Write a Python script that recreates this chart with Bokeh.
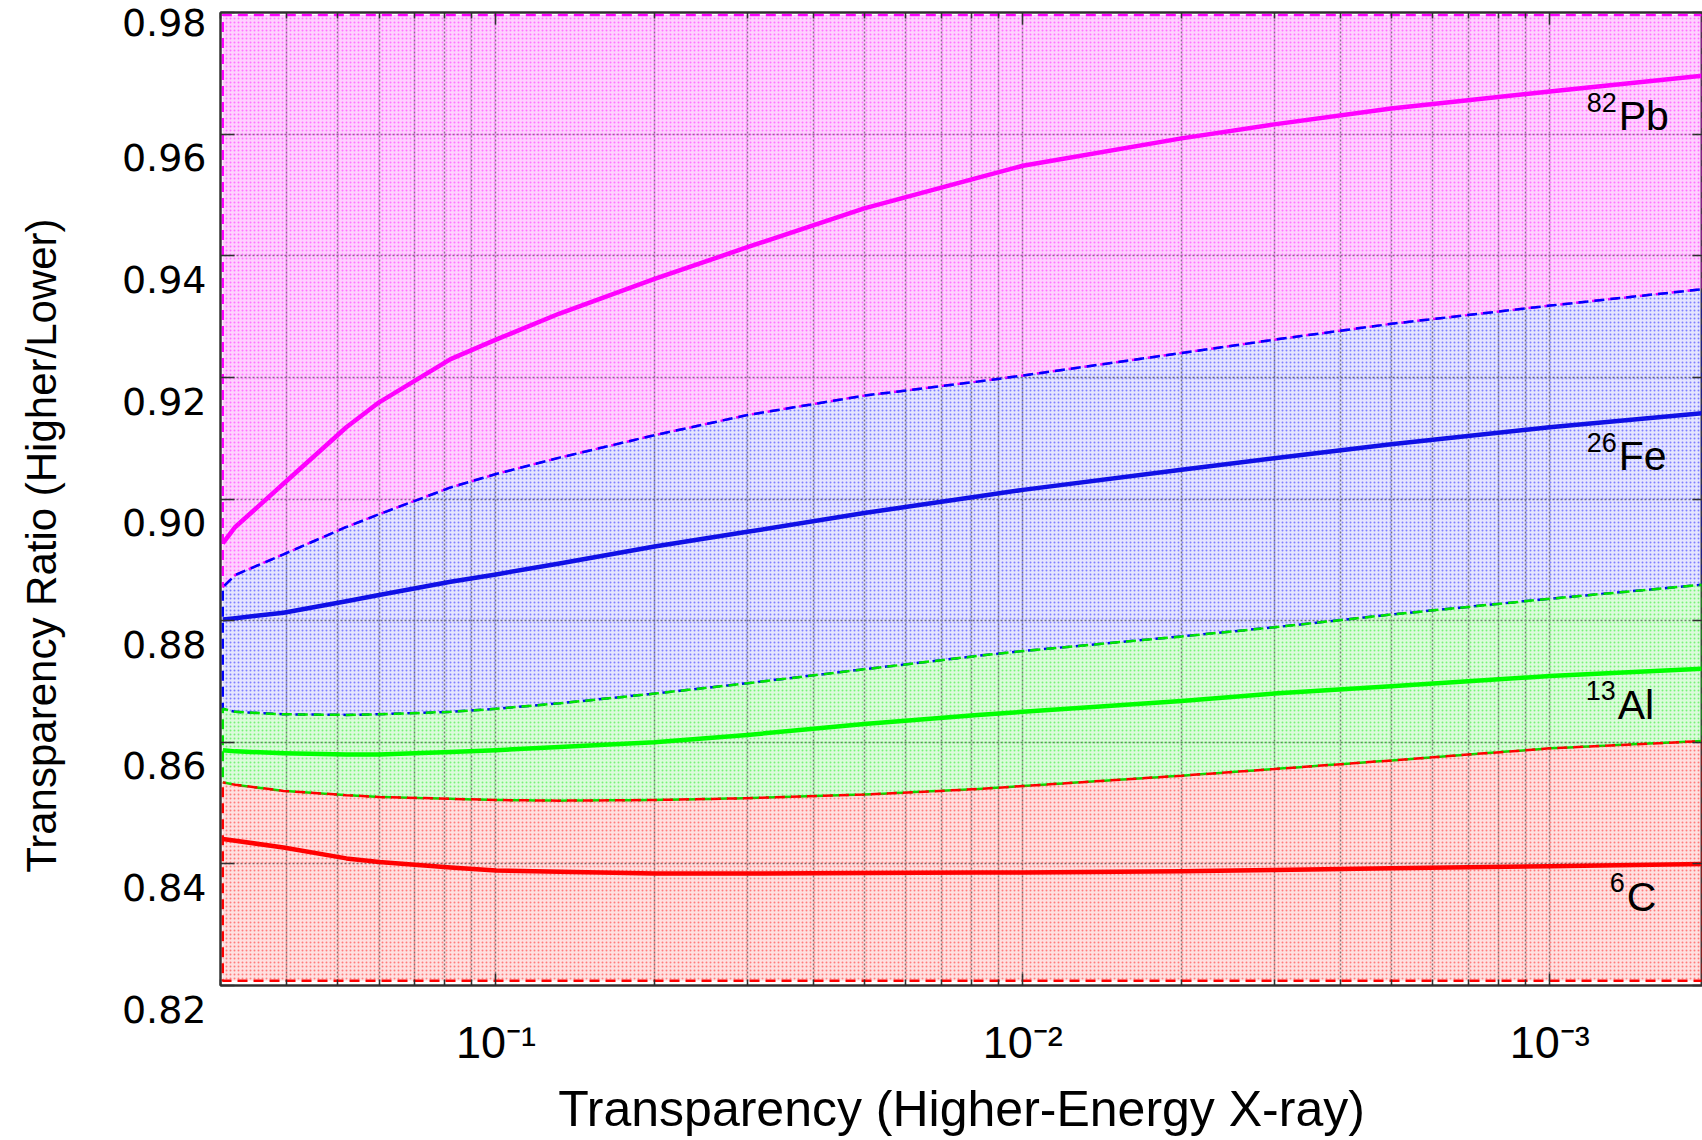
from bokeh.plotting import figure
from bokeh.models import (Range1d, FixedTicker, CustomJSTickFormatter, LogAxis, LinearAxis)
from bokeh.core.properties import value
from bokeh.embed import file_html
from bokeh.resources import INLINE

# ---------------- data ----------------
# x: inverse of transparency (axis labelled with transparency 10^-1 ... 10^-3)
attenuation = [3.03, 3.2, 3.95, 5.2, 6.0, 8.2, 10, 13.2, 20, 30, 50, 82, 100, 200, 300, 500, 1000, 1950]

pb_ratio = [0.8927, 0.8954, 0.9025, 0.9118, 0.9159, 0.9230, 0.9262, 0.9305, 0.9362, 0.9414,
            0.9478, 0.9528, 0.9548, 0.9593, 0.9616, 0.9642, 0.9670, 0.9696]
pb_fe_boundary = [0.8855, 0.8875, 0.8909, 0.8954, 0.8975, 0.9019, 0.9041, 0.9068, 0.9105, 0.9138,
                  0.9170, 0.9193, 0.9203, 0.9240, 0.9262, 0.9288, 0.9318, 0.9345]
fe_ratio = [0.8802, 0.8804, 0.8813, 0.8832, 0.8842, 0.8864, 0.8876, 0.8894, 0.8922, 0.8946,
            0.8977, 0.9004, 0.9015, 0.9048, 0.9067, 0.9090, 0.9118, 0.9141]
fe_al_boundary = [0.8655, 0.8650, 0.8646, 0.8645, 0.8646, 0.8650, 0.8655, 0.8664, 0.8680, 0.8697,
                  0.8720, 0.8742, 0.8750, 0.8774, 0.8789, 0.8810, 0.8836, 0.8859]
al_ratio = [0.8587, 0.8585, 0.8582, 0.8580, 0.8580, 0.8584, 0.8587, 0.8592, 0.8600, 0.8612,
            0.8630, 0.8645, 0.8650, 0.8668, 0.8680, 0.8692, 0.8709, 0.8721]
al_c_boundary = [0.8534, 0.8530, 0.8520, 0.8513, 0.8510, 0.8507, 0.8505, 0.8504, 0.8505, 0.8508,
                 0.8514, 0.8523, 0.8528, 0.8545, 0.8556, 0.8570, 0.8590, 0.8602]
c_ratio = [0.8441, 0.8438, 0.8427, 0.8409, 0.8403, 0.8394, 0.8389, 0.8387, 0.8384, 0.8384,
           0.8385, 0.8386, 0.8386, 0.8388, 0.8390, 0.8393, 0.8396, 0.8400]

region_top = 0.9796
region_bottom = 0.8208

x_tick_values = [10, 100, 1000]
x_tick_labels = ["10\u207b\u00b9", "10\u207b\u00b2", "10\u207b\u00b3"]
y_tick_values = [0.82, 0.84, 0.86, 0.88, 0.90, 0.92, 0.94, 0.96, 0.98]

element_mass = ["82", "26", "13", "6"]
element_name = ["Pb", "Fe", "Al", "C"]

# ---------------- styling / placement ----------------
label_x = [1352, 1352, 1346, 1400]
label_y = [0.9629, 0.9070, 0.8662, 0.8346]
colors = ["#ff00ff", "#0000ff", "#00e600", "#ff0000"]
line_colors = ["#ff00ff", "#1010e6", "#00ff00", "#ff0000"]

p = figure(width=1702, height=1140, x_axis_type="log",
           x_range=Range1d(3.0, 1950), y_range=Range1d(0.82, 0.98),
           output_backend="svg", toolbar_location=None,
           min_border_left=220, min_border_top=12, min_border_right=0, min_border_bottom=155)
p.background_fill_color = "white"
p.outline_line_color = "#404040"
p.outline_line_width = 2

minor = [m * 10 ** k for k in range(0, 4) for m in range(2, 10)]
xticker = FixedTicker(ticks=x_tick_values, minor_ticks=minor)
yticker = FixedTicker(ticks=y_tick_values, minor_ticks=[])
p.xaxis.ticker = xticker
p.xaxis.formatter = CustomJSTickFormatter(args=dict(vals=x_tick_values, labs=x_tick_labels),
                                          code="const i = vals.indexOf(tick); return i >= 0 ? labs[i] : '';")
p.yaxis.ticker = yticker
top_value = y_tick_values[-1]
# labels sit a little below their grid line in the original: blank first line
# (the top label is kept inside the canvas by Bokeh, which gives a similar shift)
p.yaxis.formatter = CustomJSTickFormatter(args=dict(top=top_value),
                                          code="return Math.abs(tick - top) < 1e-9 ? tick.toFixed(2) : '\\n' + tick.toFixed(2);")

# box ticks on top and right (no labels)
top_axis = LogAxis(ticker=xticker, formatter=CustomJSTickFormatter(code="return '';"))
right_axis = LinearAxis(ticker=yticker, formatter=CustomJSTickFormatter(code="return '';"))
p.add_layout(top_axis, "above")
p.add_layout(right_axis, "right")

for ax in (p.xaxis + p.yaxis):
    ax.axis_line_color = "#303030"
    ax.axis_line_width = 2
    ax.major_tick_line_color = "#303030"
    ax.minor_tick_line_color = "#303030"
    ax.major_tick_line_width = 1.5
    ax.minor_tick_line_width = 1.5
    ax.major_tick_out = 0
    ax.minor_tick_out = 0
    ax.major_label_text_color = "black"
    ax.axis_label_text_color = "black"
    ax.axis_label_text_font_style = "normal"
    ax.axis_label_text_font = "Liberation Sans"

for ax in (top_axis, right_axis):
    ax.major_label_text_font_size = "0px"
    ax.major_label_standoff = 0

top_axis.major_tick_in = 12
top_axis.minor_tick_in = 6
right_axis.major_tick_in = 10
right_axis.minor_tick_in = 0

xa = p.below[0]
xa.major_tick_in = 12
xa.minor_tick_in = 6
xa.major_label_standoff = 31
xa.major_label_text_font = "Liberation Sans"
xa.major_label_text_font_size = "45px"
xa.axis_label = "Transparency (Higher-Energy X-ray)"
xa.axis_label_text_font_size = "50px"
xa.axis_label_standoff = 10

ya = p.left[0]
ya.major_tick_in = 14
ya.minor_tick_in = 0
ya.major_label_standoff = 14
ya.major_label_text_font = "DejaVu Sans"
ya.major_label_text_font_size = "38px"
ya.major_label_text_line_height = 1.1
ya.axis_label = "Transparency Ratio (Higher/Lower)" + "\u00a0" * 8
ya.axis_label_text_font_size = "42px"
ya.axis_label_standoff = 54

p.xgrid.grid_line_color = "#7a7a7a"
p.xgrid.grid_line_dash = "2 2"
p.xgrid.grid_line_width = 1.5
p.xgrid.minor_grid_line_color = "#7a7a7a"
p.xgrid.minor_grid_line_dash = "2 2"
p.xgrid.minor_grid_line_width = 1.5
p.ygrid.grid_line_color = "#7a7a7a"
p.ygrid.grid_line_dash = "2 2"
p.ygrid.grid_line_width = 1.5

# region fills (dotted hatch like the original)
x_end, x_start = attenuation[-1], attenuation[0]
regions = [
    (attenuation + [x_end, x_start], pb_fe_boundary + [region_top, region_top]),
    (attenuation + attenuation[::-1], fe_al_boundary + pb_fe_boundary[::-1]),
    (attenuation + attenuation[::-1], al_c_boundary + fe_al_boundary[::-1]),
    (attenuation + [x_end, x_start], al_c_boundary + [region_bottom, region_bottom]),
]
fill_alpha = [0.18, 0.10, 0.14, 0.12]
for i, (xs, ys) in enumerate(regions):
    p.patch(xs, ys, fill_color=colors[i], fill_alpha=fill_alpha[i],
            hatch_pattern="dot", hatch_scale=4, hatch_weight=1,
            hatch_color=colors[i], hatch_alpha=0.45,
            line_color=colors[i], line_width=2.5, line_dash="10 6",
            line_dash_offset=(7 if i % 2 else 0))

series = [pb_ratio, fe_ratio, al_ratio, c_ratio]
for i, s in enumerate(series):
    p.line(attenuation, s, line_color=line_colors[i], line_width=4.5, line_join="round")

p.text(x=label_x, y=label_y, text=element_name, text_font=value("Liberation Sans"),
       text_font_size="41px", text_align="left", text_baseline="alphabetic", text_color="black")
p.text(x=label_x, y=label_y, text=element_mass, text_font=value("Liberation Sans"),
       text_font_size="27px", text_align="right", text_baseline="alphabetic", text_color="black",
       x_offset=-2, y_offset=-14)

open("out.html", "w").write(file_html(p, INLINE))
